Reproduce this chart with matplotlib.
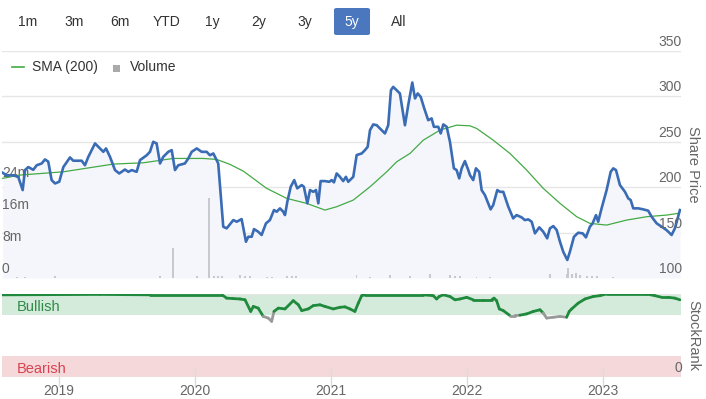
import matplotlib
matplotlib.use("Agg")
import matplotlib.pyplot as plt
import numpy as np
from matplotlib.patches import FancyBboxPatch, Rectangle
from matplotlib.lines import Line2D
from matplotlib.collections import LineCollection
from matplotlib.transforms import blended_transform_factory, offset_copy

plt.rcParams['font.family'] = ['Liberation Sans', 'DejaVu Sans']

# ---------------- data (decimal years) ----------------
price_t = [2018.586, 2018.615, 2018.664, 2018.701, 2018.733, 2018.75, 2018.774, 2018.811, 2018.836, 2018.873,
           2018.897, 2018.921, 2018.946, 2018.971, 2019.002, 2019.032, 2019.081, 2019.105, 2019.167, 2019.191,
           2019.215, 2019.265, 2019.301, 2019.326, 2019.346, 2019.375, 2019.412, 2019.443, 2019.485, 2019.51,
           2019.535, 2019.571, 2019.596, 2019.645, 2019.669, 2019.693, 2019.718, 2019.743, 2019.767, 2019.804,
           2019.829, 2019.853, 2019.877, 2019.926, 2019.951, 2019.976, 2020.013, 2020.049, 2020.086, 2020.11,
           2020.135, 2020.171, 2020.208, 2020.233, 2020.282, 2020.307, 2020.343, 2020.375, 2020.392, 2020.417,
           2020.434, 2020.465, 2020.49, 2020.522, 2020.551, 2020.581, 2020.601, 2020.625, 2020.649, 2020.662,
           2020.679, 2020.704, 2020.73, 2020.752, 2020.785, 2020.801, 2020.826, 2020.846, 2020.87, 2020.89,
           2020.907, 2020.924, 2020.956, 2020.988, 2021.005, 2021.022, 2021.042, 2021.066, 2021.09, 2021.11,
           2021.127, 2021.164, 2021.189, 2021.226, 2021.25, 2021.27, 2021.287, 2021.311, 2021.336, 2021.373,
           2021.397, 2021.421, 2021.441, 2021.458, 2021.483, 2021.507, 2021.544, 2021.568, 2021.598, 2021.618,
           2021.638, 2021.66, 2021.686, 2021.715, 2021.74, 2021.757, 2021.789, 2021.807, 2021.826, 2021.851,
           2021.875, 2021.904, 2021.924, 2021.943, 2021.961, 2021.985, 2022.01, 2022.022, 2022.046, 2022.066,
           2022.09, 2022.108, 2022.132, 2022.174, 2022.193, 2022.223, 2022.243, 2022.267, 2022.304, 2022.34,
           2022.365, 2022.402, 2022.426, 2022.451, 2022.476, 2022.5, 2022.532, 2022.561, 2022.59, 2022.61,
           2022.635, 2022.66, 2022.684, 2022.708, 2022.738, 2022.757, 2022.787, 2022.818, 2022.851, 2022.875,
           2022.904, 2022.924, 2022.949, 2022.965, 2022.99, 2023.027, 2023.057, 2023.076, 2023.096, 2023.125,
           2023.162, 2023.186, 2023.204, 2023.223, 2023.26, 2023.296, 2023.333, 2023.358, 2023.395, 2023.432,
           2023.468, 2023.505, 2023.529, 2023.566]
price_v = [215.7, 213, 213, 211, 196.7, 218.7, 222, 219, 224, 226,
           230.4, 228, 207.7, 204, 205.9, 222, 232.6, 229, 229, 224,
           233, 248, 242.5, 238.8, 242.5, 233.3, 218.7, 215, 219.3, 216.8,
           218.7, 216.8, 229.7, 235, 238.8, 249.8, 248, 226, 233.3, 238.8,
           240.6, 218.7, 224, 226, 231.5, 238.8, 242.5, 238.8, 238.8, 235,
           237, 226, 156.4, 154.6, 163.7, 161.9, 164.8, 139.9, 145.4, 145.4,
           153.8, 150.9, 147.3, 160.1, 163.7, 174.7, 172.9, 176.6, 172.9, 169.2,
           183.8, 200.3, 207.7, 198.6, 202.2, 200.3, 182.1, 196.7, 194.8, 196.7,
           182.1, 206.6, 206.6, 205.8, 207.7, 205.2, 215, 211.3, 206.6, 211.3,
           205.8, 211.3, 235.2, 237, 240.6, 244.3, 262.6, 268.9, 268.1, 262.6,
           259, 268, 306.6, 310.2, 306.6, 303, 268, 290, 315, 297.5,
           303, 299.2, 286.5, 273.6, 275.5, 266.3, 266.3, 259, 268.9, 266.3,
           249.8, 220.6, 218.7, 209.6, 220.6, 228.6, 218.7, 213.2, 207.7, 220.6,
           216.8, 196.7, 191.2, 175.5, 180.2, 196.7, 194.8, 194.8, 178.4, 165.6,
           169.2, 166.7, 163.7, 164.5, 161.9, 149.1, 155.7, 150.9, 143.6, 154.6,
           157.1, 152.7, 139.9, 128.9, 119.8, 128.9, 145.4, 149.8, 149.1, 144.7,
           156.4, 160.1, 169.2, 161.9, 176.6, 196.7, 216.8, 220.6, 218.7, 202.2,
           194.8, 187.6, 185.7, 176.6, 176.6, 175.5, 174, 167.4, 160.1, 156.4,
           152.7, 147.3, 154.6, 174.7]

sma_t = [2018.586, 2018.713, 2019.032, 2019.399, 2019.62, 2019.84, 2020.061, 2020.16, 2020.257, 2020.355,
         2020.527, 2020.674, 2020.821, 2020.956, 2021.042, 2021.164, 2021.287, 2021.41, 2021.483, 2021.581,
         2021.679, 2021.801, 2021.924, 2022.022, 2022.071, 2022.193, 2022.316, 2022.439, 2022.561, 2022.684,
         2022.807, 2022.904, 2023.027, 2023.174, 2023.321, 2023.468, 2023.554]
sma_v = [209.6, 213.2, 216.8, 225.3, 226.7, 231.5, 231.5, 230.4, 225, 217.6,
         198.6, 187.6, 182.1, 174.7, 178.4, 185.7, 200.3, 216.8, 227.8, 237,
         251.6, 262.6, 268.1, 267.4, 264.5, 251.6, 237, 218.7, 198.6, 182.1,
         167.4, 160.1, 158.2, 163.7, 167.4, 169.2, 171.1]

vol_t = [2018.689, 2018.75, 2018.971, 2019.743, 2019.84, 2020.013, 2020.105, 2020.14, 2020.169, 2020.199,
         2020.331, 2020.368, 2020.404, 2020.529, 2020.566, 2020.676, 2020.713, 2020.743, 2021.189, 2021.287,
         2021.434, 2021.581, 2021.728, 2021.875, 2021.912, 2021.949, 2022.071, 2022.169, 2022.61, 2022.733,
         2022.743, 2022.772, 2022.801, 2022.831, 2022.882, 2022.919, 2022.956, 2023.074]
vol_v = [0.3e6, 0.3e6, 0.4e6, 0.5e6, 7.5e6, 0.4e6, 20e6, 0.5e6, 0.4e6, 0.5e6,
         0.8e6, 0.6e6, 0.5e6, 0.3e6, 0.3e6, 0.6e6, 0.5e6, 0.5e6, 0.7e6, 0.3e6,
         0.7e6, 0.5e6, 1.0e6, 0.7e6, 0.5e6, 0.5e6, 0.3e6, 0.3e6, 1.0e6, 1.0e6,
         2.4e6, 1.0e6, 1.2e6, 0.8e6, 0.5e6, 0.5e6, 0.5e6, 0.3e6]

rank_t = [2018.581, 2019.301, 2019.669, 2020.199, 2020.233, 2020.279, 2020.331, 2020.368, 2020.41, 2020.429,
          2020.465, 2020.502, 2020.539, 2020.564, 2020.581, 2020.613, 2020.662, 2020.723, 2020.76, 2020.785,
          2020.833, 2020.87, 2020.919, 2020.956, 2021.017, 2021.066, 2021.103, 2021.14, 2021.176, 2021.201,
          2021.226, 2021.25, 2021.679, 2021.752, 2021.777, 2021.796, 2021.826, 2021.875, 2021.912, 2021.949,
          2021.998, 2022.046, 2022.12, 2022.182, 2022.199, 2022.218, 2022.238, 2022.267, 2022.316, 2022.353,
          2022.39, 2022.439, 2022.488, 2022.537, 2022.561, 2022.586, 2022.635, 2022.684, 2022.733, 2022.752,
          2022.77, 2022.818, 2022.868, 2022.929, 2022.978, 2023.027, 2023.321, 2023.382, 2023.432, 2023.48,
          2023.529, 2023.566]
rank_v = [99, 99.5, 99, 99, 95, 94.5, 94, 93, 79, 85,
          83, 73, 71, 67, 79, 83, 82, 92, 87, 80,
          82, 86, 87, 85, 82, 84, 84.5, 82, 79, 89,
          98, 99, 99, 98, 94, 97, 99, 97, 93, 94,
          96, 93, 93, 93, 95, 92, 82, 80, 74, 74,
          74.5, 76, 79, 81, 77, 71, 72, 73, 72, 79,
          82, 89, 94, 97, 98, 100, 100, 98, 96, 96,
          95, 93]

years = [2019, 2020, 2021, 2022, 2023]
price_ticks = [100, 150, 200, 250, 300, 350]
vol_ticks = [0, 8e6, 16e6, 24e6]
vol_labels = ['0', '8m', '16m', '24m']
buttons = ['1m', '3m', '6m', 'YTD', '1y', '2y', '3y', '5y', 'All']
selected_button = '5y'

# ---------------- layout ----------------
W, H = 706, 399
fig = plt.figure(figsize=(W / 100, H / 100), dpi=100)


def rect(x0, y0, x1, y1):
    return [x0 / W, 1 - y1 / H, (x1 - x0) / W, (y1 - y0) / H]


XMIN, XMAX = 2018.581, 2023.574
GRID = '#e6e6e6'
TXT = '#666666'
BLUE = '#3a6cb5'
SMA_C = '#44aa44'

main_rect = rect(2, 50.7, 681, 278)
ax_bg = fig.add_axes(main_rect)
ax_vol = fig.add_axes(main_rect)
ax_pr = fig.add_axes(main_rect)
for a in (ax_bg, ax_vol, ax_pr):
    a.set_xlim(XMIN, XMAX)
    a.set_xticks([])
    a.set_yticks([])
    for s in a.spines.values():
        s.set_visible(False)
ax_vol.patch.set_visible(False)
ax_pr.patch.set_visible(False)

ax_bg.set_ylim(100, 350)
ax_pr.set_ylim(100, 350)
ax_vol.set_ylim(0, 56.8e6)

for v in price_ticks:
    ax_bg.axhline(v, color=GRID, lw=1, zorder=0)
ax_bg.fill_between(price_t, price_v, 100, color='#f4f6fb', lw=0, zorder=1)

ax_vol.bar(vol_t, vol_v, width=0.012, color='#c8c9cf', lw=0, align='center')

ax_pr.plot(sma_t, sma_v, color=SMA_C, lw=0.9, zorder=3)
ax_pr.plot(price_t, price_v, color=BLUE, lw=1.9, zorder=4, solid_joinstyle='round')

# price labels (right, inside)
tr_p = offset_copy(blended_transform_factory(ax_pr.transAxes, ax_pr.transData), fig=fig, x=0, y=2, units='dots')
for v in price_ticks:
    ax_pr.text(1.0 + 1 / 679, v, str(v), transform=tr_p, ha='right', va='bottom', fontsize=10, color=TXT, zorder=6)

# volume labels (left, inside)
tr_v = offset_copy(blended_transform_factory(ax_vol.transAxes, ax_vol.transData), fig=fig, x=0, y=2, units='dots')
for v, lab in zip(vol_ticks, vol_labels):
    ax_vol.text(0.0, v, lab, transform=tr_v, ha='left', va='bottom', fontsize=10, color=TXT)

fig.text(693 / W, 1 - 164 / H, 'Share Price', rotation=270, ha='center', va='center', fontsize=10.5, color=TXT)

# ---------------- StockRank panel ----------------
ax_r = fig.add_axes(rect(2, 294, 681, 377))
ax_r.set_xlim(XMIN, XMAX)
ax_r.set_ylim(0, 100)
for s in ax_r.spines.values():
    s.set_visible(False)
ax_r.axhspan(75, 100, color='#d4eadb', lw=0, zorder=0)
ax_r.axhspan(0, 25, color='#f4d8da', lw=0, zorder=0)
ax_r.axhline(100, color=GRID, lw=1, zorder=1)
ax_r.axhline(0, color=GRID, lw=1, zorder=1)
ax_r.set_yticks([])
ax_r.set_xticks(years)
ax_r.set_xticklabels([str(y) for y in years])
ax_r.tick_params(axis='x', direction='inout', length=13, width=1, color='#dcdcdc',
                 labelsize=10, labelcolor=TXT, pad=-1.5)

rt = np.array(rank_t)
rv = np.array(rank_v)
pts = np.column_stack([rt, rv]).reshape(-1, 1, 2)
segs = np.concatenate([pts[:-1], pts[1:]], axis=1)
mid = (rv[:-1] + rv[1:]) / 2
cols = ['#999999' if m < 75 else '#1f8a3c' for m in mid]
lc = LineCollection(segs, colors=cols, linewidths=2.0, capstyle='round', joinstyle='round', zorder=3)
ax_r.add_collection(lc)

ax_r.text(15 / 679, 84, 'Bullish', transform=blended_transform_factory(ax_r.transAxes, ax_r.transData),
          ha='left', va='center', fontsize=10.5, color='#2e8b46')
ax_r.text(15 / 679, 10, 'Bearish', transform=blended_transform_factory(ax_r.transAxes, ax_r.transData),
          ha='left', va='center', fontsize=10.5, color='#d9434f')
tr_r = offset_copy(blended_transform_factory(ax_r.transAxes, ax_r.transData), fig=fig, x=0, y=2, units='dots')
ax_r.text(1.0 + 1 / 679, 0, '0', transform=tr_r, ha='right', va='bottom', fontsize=10, color=TXT)

fig.text(693 / W, 1 - 335 / H, 'StockRank', rotation=270, ha='center', va='center', fontsize=10.5, color=TXT)

# ---------------- range selector buttons ----------------
btn_x = [28, 74, 120, 167, 212, 259, 305, 352, 399]
for lab, bx in zip(buttons, btn_x):
    if lab == selected_button:
        fig.patches.append(FancyBboxPatch(((bx - 18) / W, 1 - 35 / H), 36 / W, 27 / H,
                                          boxstyle='round,pad=0,rounding_size=0.004',
                                          transform=fig.transFigure, fc='#4a77be', ec='none'))
        fig.text(bx / W, 1 - 22 / H, lab, ha='center', va='center', fontsize=10, color='white')
    else:
        fig.text(bx / W, 1 - 22 / H, lab, ha='center', va='center', fontsize=10, color='#333333')

# ---------------- legend ----------------
fig.lines.append(Line2D([12 / W, 24 / W], [1 - 67 / H, 1 - 67 / H], transform=fig.transFigure,
                        color=SMA_C, lw=1.2))
fig.text(32 / W, 1 - 67 / H, 'SMA (200)', ha='left', va='center', fontsize=10, color='#333333')
fig.patches.append(Rectangle((113 / W, 1 - 72 / H), 7 / W, 7 / H, transform=fig.transFigure,
                             fc='#aaaaaa', ec='none'))
fig.text(130 / W, 1 - 67 / H, 'Volume', ha='left', va='center', fontsize=10, color='#333333')

fig.savefig('out.png', dpi=100)
